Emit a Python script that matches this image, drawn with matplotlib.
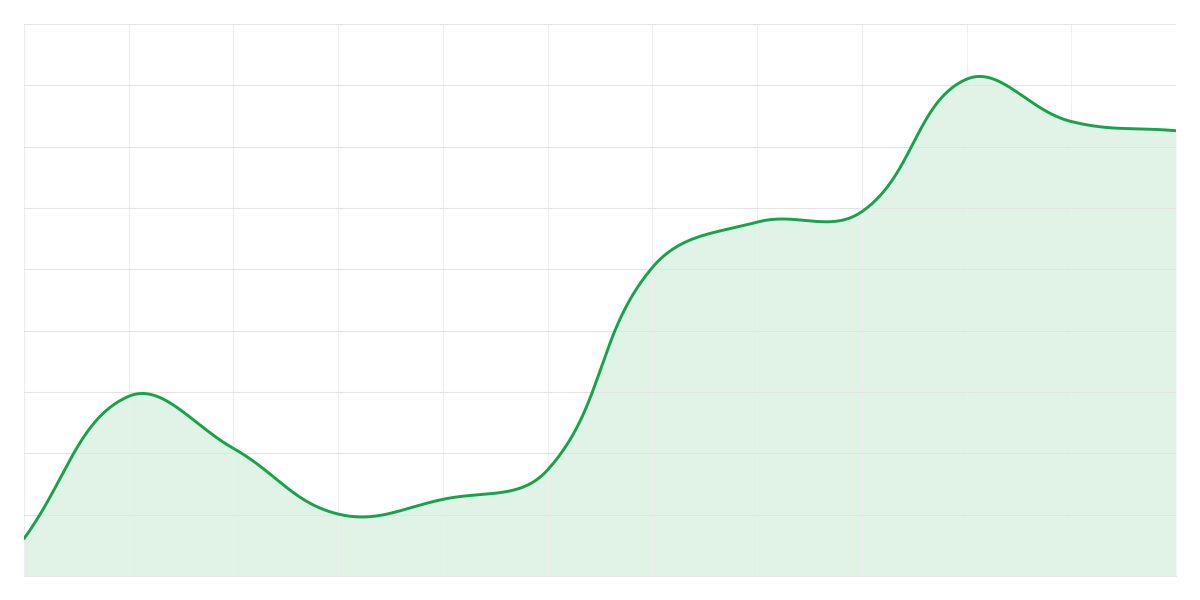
import matplotlib
matplotlib.use("Agg")
import matplotlib.pyplot as plt
import numpy as np

# values, one per vertical gridline
x_pos = list(range(12))
values = [6.1, 29.3, 20.8, 10.1, 12.5, 17.3, 50.3, 57.7, 59.4, 81.0, 74.1, 72.6]

LINE = "#16a34a"
FILL = "#e1f3e7"


def spline(xs, ys, sx, sy, tension=0.4, n=60):
    # chart.js style bezier smoothing, distances measured in pixels
    px = np.array(xs, float) * sx
    py = np.array(ys, float) * sy
    k = len(px)
    cps = []
    for i in range(k):
        p0 = (px[max(i - 1, 0)], py[max(i - 1, 0)])
        p1 = (px[i], py[i])
        p2 = (px[min(i + 1, k - 1)], py[min(i + 1, k - 1)])
        d01 = np.hypot(p1[0] - p0[0], p1[1] - p0[1])
        d12 = np.hypot(p2[0] - p1[0], p2[1] - p1[1])
        s = d01 + d12
        fa = tension * d01 / s if s else 0
        fb = tension * d12 / s if s else 0
        prev = (p1[0] - fa * (p2[0] - p0[0]), p1[1] - fa * (p2[1] - p0[1]))
        nxt = (p1[0] + fb * (p2[0] - p0[0]), p1[1] + fb * (p2[1] - p0[1]))
        cps.append((prev, nxt))
    out_x, out_y = [px[0]], [py[0]]
    t = np.linspace(0, 1, n)[1:]
    for i in range(k - 1):
        a = (px[i], py[i])
        b = cps[i][1]
        c = cps[i + 1][0]
        d = (px[i + 1], py[i + 1])
        for j in range(2):
            v = ((1 - t) ** 3 * a[j] + 3 * (1 - t) ** 2 * t * b[j]
                 + 3 * (1 - t) * t ** 2 * c[j] + t ** 3 * d[j])
            (out_x if j == 0 else out_y).extend(v)
    return np.array(out_x) / sx, np.array(out_y) / sy


fig = plt.figure(figsize=(12, 6), dpi=100)
ax = fig.add_axes([0.02, 0.04, 0.96, 0.92])

sx = 1152 / 11
sy = 552 / 90
cx, cy = spline(x_pos, values, sx, sy)

ax.fill_between(cx, cy, 0, color=FILL, lw=0, zorder=1)
ax.plot(cx, cy, color=LINE, lw=2.1, zorder=3, solid_capstyle="round")

ax.set_xlim(0, 11)
ax.set_ylim(0, 90)
ax.set_xticks(x_pos)
ax.set_yticks(range(0, 91, 10))
ax.xaxis.grid(True, color="#eeeeee", lw=0.8, zorder=2)
ax.yaxis.grid(True, color="#e3e3e3", lw=0.8, zorder=2)
ax.set_axisbelow(False)
ax.tick_params(length=0, labelbottom=False, labelleft=False)
for side in ["top", "right"]:
    ax.spines[side].set_visible(False)
ax.spines["left"].set_color("#eeeeee")
ax.spines["bottom"].set_color("#e3e3e3")
ax.spines["left"].set_linewidth(0.8)
ax.spines["bottom"].set_linewidth(0.8)

plt.savefig("out.png", dpi=100)
